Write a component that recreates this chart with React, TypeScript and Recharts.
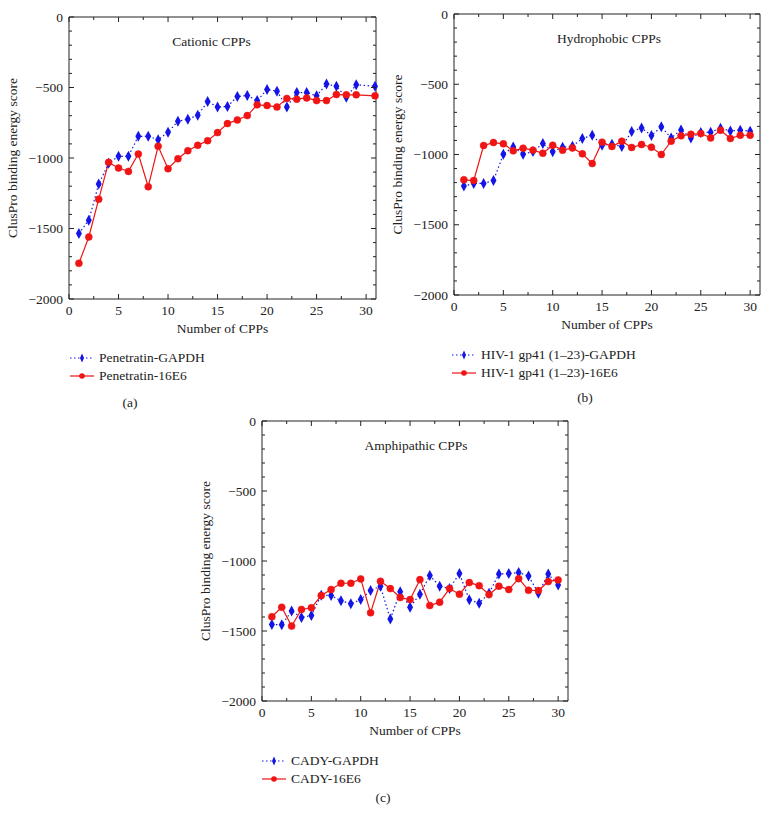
import React from "react";
import { LineChart, Line, XAxis, YAxis, Legend, Label } from "recharts";

const cpp = [1, 2, 3, 4, 5, 6, 7, 8, 9, 10, 11, 12, 13, 14, 15, 16, 17, 18, 19, 20, 21, 22, 23, 24, 25, 26, 27, 28, 29, 30];
// in panel (a) the last point sits right against the frame
const cppA = [1, 2, 3, 4, 5, 6, 7, 8, 9, 10, 11, 12, 13, 14, 15, 16, 17, 18, 19, 20, 21, 22, 23, 24, 25, 26, 27, 28, 29, 30.9];

const penetratinGapdh = [-1536, -1441, -1185, -1038, -988, -988, -846, -846, -870, -818, -739, -725, -697, -600, -638, -635, -564, -557, -593, -514, -526, -638, -536, -536, -559, -476, -491, -569, -481, -491];
const penetratin16e6 = [-1747, -1560, -1292, -1031, -1071, -1095, -972, -1204, -917, -1076, -1005, -948, -910, -877, -820, -756, -730, -699, -623, -628, -638, -578, -583, -574, -593, -593, -550, -552, -552, -559];

const hivGapdh = [-1225, -1206, -1206, -1185, -998, -946, -998, -979, -922, -981, -948, -941, -886, -863, -934, -927, -943, -837, -811, -865, -803, -882, -825, -882, -844, -841, -813, -832, -827, -834];
const hiv16e6 = [-1180, -1185, -936, -915, -924, -974, -955, -969, -991, -934, -969, -953, -995, -1064, -912, -943, -905, -950, -929, -948, -1000, -905, -867, -856, -851, -882, -827, -886, -863, -863];

const cadyGapdh = [-1453, -1455, -1358, -1403, -1389, -1244, -1247, -1284, -1306, -1275, -1211, -1180, -1415, -1220, -1330, -1237, -1104, -1180, -1197, -1090, -1277, -1301, -1230, -1093, -1090, -1083, -1107, -1230, -1093, -1171];
const cady16e6 = [-1398, -1330, -1465, -1346, -1334, -1247, -1204, -1159, -1159, -1128, -1370, -1145, -1197, -1261, -1275, -1133, -1318, -1294, -1197, -1237, -1154, -1176, -1240, -1180, -1204, -1126, -1209, -1211, -1147, -1135];

const xTicks = [0, 2.5, 5, 7.5, 10, 12.5, 15, 17.5, 20, 22.5, 25, 27.5, 30];
const yTicks = [-2000, -1900, -1800, -1700, -1600, -1500, -1400, -1300, -1200, -1100, -1000, -900, -800, -700, -600, -500, -400, -300, -200, -100, 0];

const FONT = "'Liberation Serif', 'Times New Roman', serif";
const INK = "#222";
const BLUE = "#1414e6";
const RED = "#f01414";

const fmt = (v: number) => (v < 0 ? "\u2212" + Math.abs(v) : String(v));

function LeftTick(props: any) {
  const { x, y, payload } = props;
  const v = payload.value;
  const major = v % 500 === 0;
  const ax = x + 6;
  return (
    <g>
      <line x1={ax} x2={ax + (major ? 5 : 3)} y1={y} y2={y} stroke={INK} />
      {major && (
        <text x={x} y={y + 4.5} textAnchor="end" fontFamily={FONT} fontSize={13.5} fill={INK}>
          {fmt(v)}
        </text>
      )}
    </g>
  );
}

function RightTick(props: any) {
  const { x, y, payload } = props;
  const major = payload.value % 500 === 0;
  return <line x1={x} x2={x - (major ? 5 : 3)} y1={y} y2={y} stroke={INK} />;
}

function BottomTick(props: any) {
  const { x, y, payload } = props;
  const v = payload.value;
  const major = v % 5 === 0;
  const ay = y - 6;
  return (
    <g>
      <line x1={x} x2={x} y1={ay} y2={ay - (major ? 5 : 3)} stroke={INK} />
      {major && (
        <text x={x} y={y + 10} textAnchor="middle" fontFamily={FONT} fontSize={13.5} fill={INK}>
          {fmt(v)}
        </text>
      )}
    </g>
  );
}

function TopTick(props: any) {
  const { x, y, payload } = props;
  const major = payload.value % 5 === 0;
  return <line x1={x} x2={x} y1={y} y2={y + (major ? 5 : 3)} stroke={INK} />;
}

function Diamond(props: any) {
  const { cx, cy, index } = props;
  if (cx == null || cy == null) return <g key={`dm-${index}`} />;
  return <path key={`dm-${index}`} d={`M${cx},${cy - 5.5} L${cx + 3},${cy} L${cx},${cy + 5.5} L${cx - 3},${cy} Z`} fill={BLUE} />;
}

function LegendBox(props: any) {
  const items = (props.payload || [])
    .filter((it: any) => it.type !== "none" && (it.dataKey === "gapdh" || it.dataKey === "e6") && it.value !== "e6")
    .sort((a: any, b: any) => (a.dataKey === "gapdh" ? -1 : b.dataKey === "gapdh" ? 1 : 0));
  return (
    <div style={{ fontFamily: FONT, fontSize: 13.5, color: INK }}>
      {items.map((it: any) => {
        const dotted = it.dataKey === "gapdh";
        return (
          <div key={it.value} style={{ display: "flex", alignItems: "center", height: 18, whiteSpace: "nowrap" }}>
            <svg width={24} height={14} style={{ marginRight: 5 }}>
              <line x1={0} x2={24} y1={7} y2={7} stroke={dotted ? BLUE : RED} strokeWidth={1.2} strokeDasharray={dotted ? "1.5 2.5" : undefined} />
              {dotted ? (
                <path d="M12,2.5 L14,7 L12,11.5 L10,7 Z" fill={BLUE} />
              ) : (
                <circle cx={12} cy={7} r={2.8} fill={RED} />
              )}
            </svg>
            <span>{it.value}</span>
          </div>
        );
      })}
    </div>
  );
}

type PanelProps = {
  left: number;
  top: number;
  width: number;
  margin: { top: number; right: number; bottom: number; left: number };
  xs: number[];
  gapdh: number[];
  e6: number[];
  title: string;
  titleDx: number;
  gapdhName: string;
  e6Name: string;
  legendLeft: number;
  legendTop: number;
};

function Panel(p: PanelProps) {
  const rows = p.xs.map((n, i) => ({ n, gapdh: p.gapdh[i], e6: p.e6[i] }));
  return (
    <div style={{ position: "absolute", left: p.left, top: p.top }}>
      <LineChart width={p.width} height={390} data={rows} margin={p.margin}>
        <XAxis
          dataKey="n"
          type="number"
          domain={[0, 31]}
          ticks={xTicks}
          interval={0}
          height={21}
          tickSize={0}
          tickMargin={6}
          tickLine={false}
          axisLine={{ stroke: INK }}
          tick={<BottomTick />}
        >
          <Label
            content={(lp: any) => {
              const vb = lp.viewBox || {};
              return (
                <text x={vb.x + vb.width / 2} y={vb.y + 34} textAnchor="middle" fontFamily={FONT} fontSize={13.5} fill={INK}>
                  Number of CPPs
                </text>
              );
            }}
          />
        </XAxis>
        {/* thin axes on top and right that close the frame */}
        <XAxis
          xAxisId="top"
          dataKey="n"
          orientation="top"
          type="number"
          domain={[0, 31]}
          allowDataOverflow
          ticks={xTicks}
          interval={0}
          height={1}
          tickSize={0}
          tickMargin={0}
          tickLine={false}
          axisLine={{ stroke: INK }}
          tick={<TopTick />}
        >
          <Label
            content={(lp: any) => {
              const vb = lp.viewBox || {};
              return (
                <text x={vb.x + vb.width / 2 + p.titleDx} y={vb.y + vb.height + 29} textAnchor="middle" fontFamily={FONT} fontSize={13.5} fill={INK}>
                  {p.title}
                </text>
              );
            }}
          />
        </XAxis>
        <YAxis
          type="number"
          domain={[-2000, 0]}
          ticks={yTicks}
          interval={0}
          width={69}
          tickSize={0}
          tickMargin={6}
          tickLine={false}
          axisLine={{ stroke: INK }}
          tick={<LeftTick />}
        >
          <Label
            content={(lp: any) => {
              const vb = lp.viewBox || {};
              const cx = vb.x + 12;
              const cy = vb.y + vb.height / 2;
              return (
                <text x={cx} y={cy} transform={`rotate(-90, ${cx}, ${cy})`} textAnchor="middle" dominantBaseline="central" fontFamily={FONT} fontSize={13.5} fill={INK}>
                  ClusPro binding energy score
                </text>
              );
            }}
          />
        </YAxis>
        <YAxis
          yAxisId="right"
          orientation="right"
          type="number"
          domain={[-2000, 0]}
          allowDataOverflow
          ticks={yTicks}
          interval={0}
          width={1}
          tickSize={0}
          tickMargin={0}
          tickLine={false}
          axisLine={{ stroke: INK }}
          tick={<RightTick />}
        />
        <Legend
          layout="vertical"
          align="center"
          verticalAlign="middle"
          wrapperStyle={{ left: p.legendLeft, top: p.legendTop, width: "auto" }}
          content={<LegendBox />}
        />
        <Line
          xAxisId="top"
          yAxisId="right"
          dataKey="e6"
          name="e6"
          stroke="none"
          dot={false}
          activeDot={false}
          legendType="none"
          isAnimationActive={false}
        />
        <Line
          dataKey="gapdh"
          name={p.gapdhName}
          stroke={BLUE}
          strokeWidth={1.2}
          strokeDasharray="1.5 2.5"
          dot={Diamond}
          activeDot={false}
          isAnimationActive={false}
        />
        <Line
          dataKey="e6"
          name={p.e6Name}
          stroke={RED}
          strokeWidth={1.2}
          dot={{ r: 3.5, fill: RED, stroke: RED, strokeWidth: 0.5 }}
          activeDot={false}
          isAnimationActive={false}
        />
      </LineChart>
    </div>
  );
}

const caption: React.CSSProperties = {
  position: "absolute",
  fontFamily: FONT,
  fontSize: 13.5,
  color: INK,
  width: 40,
  textAlign: "center",
};

export default function App() {
  return (
    <div style={{ position: "absolute", left: 0, top: 0, width: 769, height: 827, background: "#fff" }}>
      <Panel
        left={0}
        top={0}
        width={390}
        margin={{ top: 16, right: 13, bottom: 70, left: 0 }}
        xs={cppA}
        gapdh={penetratinGapdh}
        e6={penetratin16e6}
        title="Cationic CPPs"
        titleDx={-11}
        gapdhName="Penetratin-GAPDH"
        e6Name="Penetratin-16E6"
        legendLeft={70}
        legendTop={349}
      />
      <Panel
        left={385}
        top={0}
        width={384}
        margin={{ top: 13, right: 8, bottom: 74, left: 0 }}
        xs={cpp}
        gapdh={hivGapdh}
        e6={hiv16e6}
        title="Hydrophobic CPPs"
        titleDx={2}
        gapdhName="HIV-1 gp41 (1–23)-GAPDH"
        e6Name="HIV-1 gp41 (1–23)-16E6"
        legendLeft={67}
        legendTop={346}
      />
      <Panel
        left={193}
        top={403}
        width={385}
        margin={{ top: 17, right: 9, bottom: 71, left: 0 }}
        xs={cpp}
        gapdh={cadyGapdh}
        e6={cady16e6}
        title="Amphipathic CPPs"
        titleDx={1}
        gapdhName="CADY-GAPDH"
        e6Name="CADY-16E6"
        legendLeft={69}
        legendTop={349}
      />
      <div style={{ ...caption, left: 110, top: 395 }}>(a)</div>
      <div style={{ ...caption, left: 565, top: 390 }}>(b)</div>
      <div style={{ ...caption, left: 363, top: 790 }}>(c)</div>
    </div>
  );
}
